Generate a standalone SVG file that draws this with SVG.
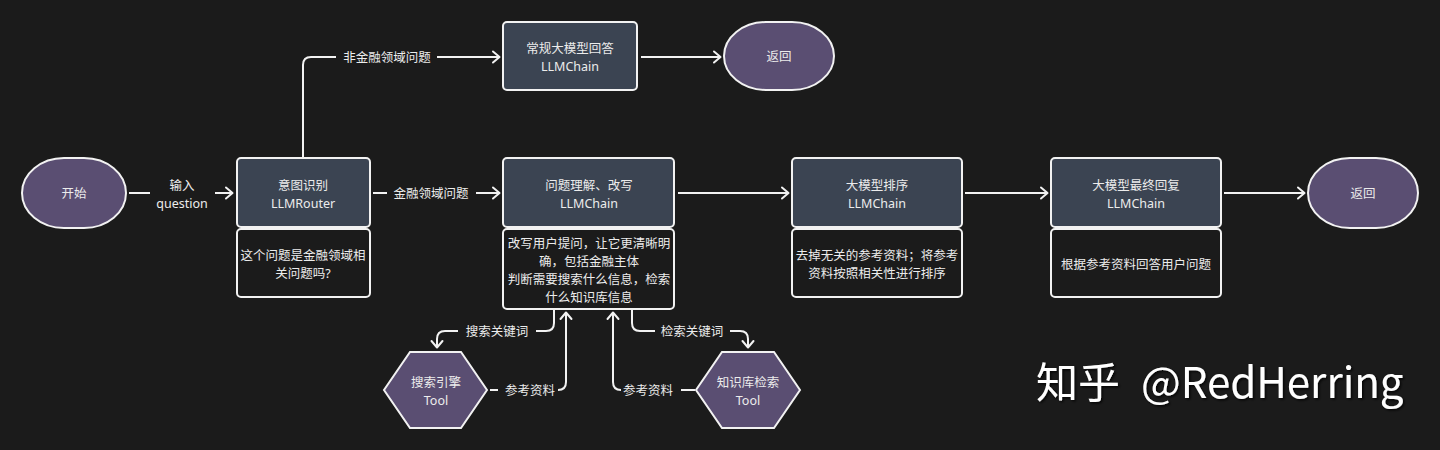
<svg xmlns="http://www.w3.org/2000/svg" width="1440" height="450" viewBox="0 0 1440 450">
<defs>
<style>
.t{font-family:"Noto Sans","Noto Sans CJK SC",sans-serif;font-size:12.5px;fill:#ececec;text-anchor:middle;dominant-baseline:central}
.box{fill:#3b4452;stroke:#f2f2f2;stroke-width:2}
.sub{fill:#1b1b1b;stroke:#f2f2f2;stroke-width:2}
.term{fill:#5a4e72;stroke:#f2f2f2;stroke-width:2}
.ln{fill:none;stroke:#f2f2f2;stroke-width:2}
.wm{font-family:"Noto Sans CJK SC","Noto Sans",sans-serif;font-size:42px;fill:#ffffff}
</style>
<marker id="ah" viewBox="0 0 10 14" refX="9" refY="7" markerWidth="10" markerHeight="14" markerUnits="userSpaceOnUse" orient="auto">
<path d="M2,1.5 L8.5,7 L2,12.5" fill="none" stroke="#f2f2f2" stroke-width="2" stroke-linecap="round" stroke-linejoin="round"/>
</marker>
<filter id="sh" x="-5%" y="-20%" width="110%" height="140%">
<feDropShadow dx="1.5" dy="1.5" stdDeviation="1" flood-color="#000" flood-opacity="0.8"/>
</filter>
</defs>
<rect width="1440" height="450" fill="#1b1b1b"/>

<g id="connectors">
<path class="ln" d="M129,193 H150"/>
<path class="ln" d="M215,193 H233" marker-end="url(#ah)"/>
<text class="t" x="182" y="185">输入</text>
<text class="t" x="182" y="203">question</text>

<path class="ln" d="M373,193 H387"/>
<text class="t" x="431" y="193">金融领域问题</text>
<path class="ln" d="M476,193 H500" marker-end="url(#ah)"/>

<path class="ln" d="M303,157 V65 Q303,57 311,57 H336"/>
<text class="t" x="387" y="57">非金融领域问题</text>
<path class="ln" d="M437,57 H500" marker-end="url(#ah)"/>

<path class="ln" d="M641,57 H721" marker-end="url(#ah)"/>
<path class="ln" d="M678,193 H789" marker-end="url(#ah)"/>
<path class="ln" d="M965,193 H1048" marker-end="url(#ah)"/>
<path class="ln" d="M1224,193 H1305" marker-end="url(#ah)"/>

<path class="ln" d="M554,310 V323 Q554,331 546,331 H536"/>
<text class="t" x="497" y="331">搜索关键词</text>
<path class="ln" d="M458,331 H445 Q437,331 437,339 V348" marker-end="url(#ah)"/>

<path class="ln" d="M490,390 H498"/>
<text class="t" x="530" y="390">参考资料</text>
<path class="ln" d="M558,390 Q566,390 566,382 V312" marker-end="url(#ah)"/>

<path class="ln" d="M695,390 H681"/>
<text class="t" x="648" y="390">参考资料</text>
<path class="ln" d="M621,390 Q613,390 613,382 V312" marker-end="url(#ah)"/>

<path class="ln" d="M632,310 V323 Q632,331 640,331 H655"/>
<text class="t" x="692" y="331">检索关键词</text>
<path class="ln" d="M730,331 H740 Q748,331 748,339 V348" marker-end="url(#ah)"/>
</g>

<g id="start">
<rect class="term" x="22" y="158" width="104" height="70" rx="42" ry="35"/>
<text class="t" x="74" y="193">开始</text>
</g>

<g id="intent">
<rect class="box" x="237" y="158" width="133" height="69" rx="4"/>
<text class="t" x="303" y="185">意图识别</text>
<text class="t" x="303" y="203">LLMRouter</text>
<rect class="sub" x="237" y="229" width="133" height="68" rx="4"/>
<text class="t" x="303" y="255">这个问题是金融领域相</text>
<text class="t" x="303" y="273">关问题吗?</text>
</g>

<g id="general">
<rect class="box" x="503" y="22" width="134" height="68" rx="4"/>
<text class="t" x="570" y="48">常规大模型回答</text>
<text class="t" x="570" y="66">LLMChain</text>
</g>

<g id="return1">
<rect class="term" x="724" y="22" width="110" height="68" rx="42" ry="34"/>
<text class="t" x="779" y="56">返回</text>
</g>

<g id="rewrite">
<rect class="box" x="503" y="158" width="171" height="69" rx="4"/>
<text class="t" x="589" y="185">问题理解、改写</text>
<text class="t" x="589" y="203">LLMChain</text>
<rect class="sub" x="503" y="229" width="171" height="80" rx="4"/>
<text class="t" x="589" y="243">改写用户提问，让它更清晰明</text>
<text class="t" x="589" y="261">确，包括金融主体</text>
<text class="t" x="589" y="279">判断需要搜索什么信息，检索</text>
<text class="t" x="589" y="297">什么知识库信息</text>
</g>

<g id="rank">
<rect class="box" x="792" y="158" width="170" height="69" rx="4"/>
<text class="t" x="877" y="185">大模型排序</text>
<text class="t" x="877" y="203">LLMChain</text>
<rect class="sub" x="792" y="229" width="170" height="68" rx="4"/>
<text class="t" x="877" y="255">去掉无关的参考资料；将参考</text>
<text class="t" x="877" y="273">资料按照相关性进行排序</text>
</g>

<g id="final">
<rect class="box" x="1051" y="158" width="170" height="69" rx="4"/>
<text class="t" x="1136" y="185">大模型最终回复</text>
<text class="t" x="1136" y="203">LLMChain</text>
<rect class="sub" x="1051" y="229" width="170" height="68" rx="4"/>
<text class="t" x="1136" y="264">根据参考资料回答用户问题</text>
</g>

<g id="return2">
<rect class="term" x="1308" y="158" width="110" height="70" rx="42" ry="35"/>
<text class="t" x="1363" y="193">返回</text>
</g>

<g id="search">
<polygon class="term" points="410,352 461,352 487,390 461,428 410,428 384,390"/>
<text class="t" x="436" y="382">搜索引擎</text>
<text class="t" x="436" y="400">Tool</text>
</g>

<g id="kb">
<polygon class="term" points="722,352 774,352 800,390 774,428 722,428 696,390"/>
<text class="t" x="748" y="382">知识库检索</text>
<text class="t" x="748" y="400">Tool</text>
</g>

<text class="wm" x="1036" y="398" filter="url(#sh)">知乎 <tspan x="1141">@RedHerring</tspan></text>
</svg>
